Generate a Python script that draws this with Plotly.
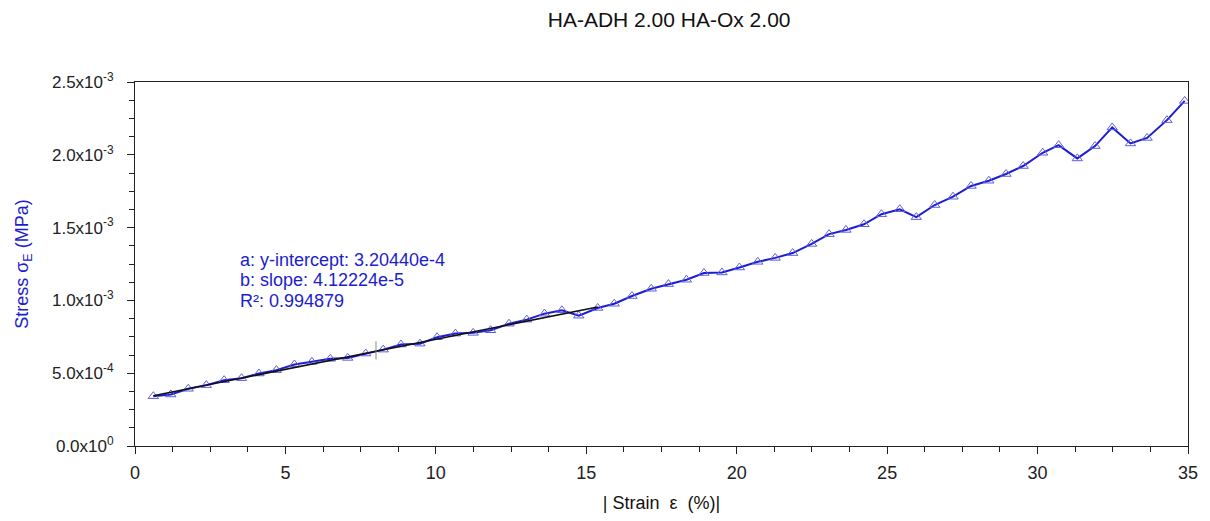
import plotly.graph_objects as go

# Measured compression data: |strain| (%) and engineering stress (MPa)
strain = [0.61, 1.19, 1.77, 2.37, 2.96, 3.54, 4.12, 4.70, 5.30, 5.88,
          6.49, 7.07, 7.67, 8.25, 8.84, 9.47, 10.04, 10.65, 11.24, 11.82,
          12.43, 13.02, 13.61, 14.19, 14.75, 15.38, 15.93, 16.52, 17.16, 17.73,
          18.33, 18.91, 19.51, 20.09, 20.70, 21.28, 21.86, 22.49, 23.07, 23.63,
          24.23, 24.81, 25.42, 25.97, 26.58, 27.19, 27.79, 28.38, 28.95, 29.52,
          30.17, 30.70, 31.32, 31.91, 32.48, 33.09, 33.64, 34.30, 34.89]
stress = [0.342e-3, 0.354e-3, 0.393e-3, 0.418e-3, 0.452e-3, 0.466e-3, 0.498e-3, 0.521e-3, 0.560e-3, 0.578e-3,
          0.599e-3, 0.605e-3, 0.635e-3, 0.662e-3, 0.697e-3, 0.703e-3, 0.747e-3, 0.772e-3, 0.777e-3, 0.795e-3,
          0.840e-3, 0.868e-3, 0.909e-3, 0.932e-3, 0.895e-3, 0.948e-3, 0.977e-3, 1.030e-3, 1.080e-3, 1.112e-3,
          1.142e-3, 1.188e-3, 1.192e-3, 1.226e-3, 1.265e-3, 1.292e-3, 1.325e-3, 1.388e-3, 1.455e-3, 1.484e-3,
          1.523e-3, 1.592e-3, 1.626e-3, 1.572e-3, 1.655e-3, 1.712e-3, 1.786e-3, 1.822e-3, 1.868e-3, 1.923e-3,
          2.014e-3, 2.066e-3, 1.975e-3, 2.060e-3, 2.188e-3, 2.078e-3, 2.116e-3, 2.238e-3, 2.370e-3]

# Linear fit over the initial region
fit_intercept = 3.20440e-4
fit_slope = 4.12224e-5
fit_r2 = 0.994879
fit_range = [0.61, 15.38]
fit_marker_x = 8.01
fit_marker_y = [0.594e-3, 0.719e-3]

x_ticks = [0, 5, 10, 15, 20, 25, 30, 35]
y_tickvals = [0.0, 0.5e-3, 1.0e-3, 1.5e-3, 2.0e-3, 2.5e-3]
y_ticktext = ["0.0x10<sup>0</sup>", "5.0x10<sup>-4</sup>", "1.0x10<sup>-3</sup>",
              "1.5x10<sup>-3</sup>", "2.0x10<sup>-3</sup>", "2.5x10<sup>-3</sup>"]

FONT = "Liberation Sans, Arial, sans-serif"
BLUE = "#1c1cd0"
INK = "#222222"

fig = go.Figure()

fig.add_trace(go.Scatter(
    x=strain, y=stress, mode="lines+markers",
    line=dict(color=BLUE, width=2),
    marker=dict(symbol="triangle-up-open", size=9, color="#5e5ee2",
                line=dict(width=1, color="#5e5ee2")),
    showlegend=False,
))

fig.add_trace(go.Scatter(
    x=fit_range,
    y=[fit_intercept + fit_slope * v for v in fit_range],
    mode="lines", line=dict(color="#111111", width=1.6),
    showlegend=False,
))

fig.add_shape(type="line", xref="x", yref="y",
              x0=fit_marker_x, x1=fit_marker_x,
              y0=fit_marker_y[0], y1=fit_marker_y[1],
              line=dict(color="#888888", width=1))

# Fit summary, one line per annotation
fit_lines = [
    "a: y-intercept: " + f"{fit_intercept:.5e}".replace("e-04", "e-4"),
    "b: slope: " + f"{fit_slope:.5e}".replace("e-05", "e-5"),
    f"R²: {fit_r2}",
]
for i, line in enumerate(fit_lines):
    fig.add_annotation(
        xref="paper", yref="paper", x=0.098, y=0.512 - i * 0.0565,
        xanchor="left", yanchor="middle", align="left", showarrow=False,
        text=line, font=dict(family=FONT, size=18, color=BLUE),
    )

fig.update_layout(
    width=1210, height=521,
    margin=dict(l=135, r=17, t=82, b=74),
    paper_bgcolor="white", plot_bgcolor="white",
    font=dict(family=FONT, size=17, color=INK),
    title=dict(text="HA-ADH 2.00 HA-Ox 2.00", x=0.553, xanchor="center",
               y=0.962, yanchor="middle",
               font=dict(family=FONT, size=21, color="#111111")),
)

fig.update_xaxes(
    range=[0, 35], tickvals=x_ticks, ticks="outside", ticklen=7, tickwidth=1,
    tickcolor=INK, showgrid=False, zeroline=False,
    showline=True, linecolor=INK, linewidth=1, mirror=True,
    minor=dict(dtick=1.25, ticks="outside", ticklen=5, tickcolor=INK, showgrid=False),
    ticklabelstandoff=3,
    title=dict(text="| Strain  ε  (%)|", standoff=14,
               font=dict(family=FONT, size=18, color="#111111")),
    tickfont=dict(family=FONT, size=18, color=INK),
)

fig.update_yaxes(
    range=[0, 2.5e-3], tickvals=y_tickvals, ticktext=y_ticktext,
    ticks="outside", ticklen=7, tickwidth=1, tickcolor=INK,
    showgrid=False, zeroline=False,
    showline=True, linecolor=INK, linewidth=1, mirror=True,
    minor=dict(tickvals=[i * 0.125e-3 for i in range(21)], ticks="outside",
               ticklen=5, tickcolor=INK, showgrid=False),
    ticklabelstandoff=10,
    title=dict(text="Stress σ<sub>E</sub> (MPa)", standoff=18,
               font=dict(family=FONT, size=18, color=BLUE)),
    tickfont=dict(family=FONT, size=17, color=INK),
)

fig.write_html("out.html")
